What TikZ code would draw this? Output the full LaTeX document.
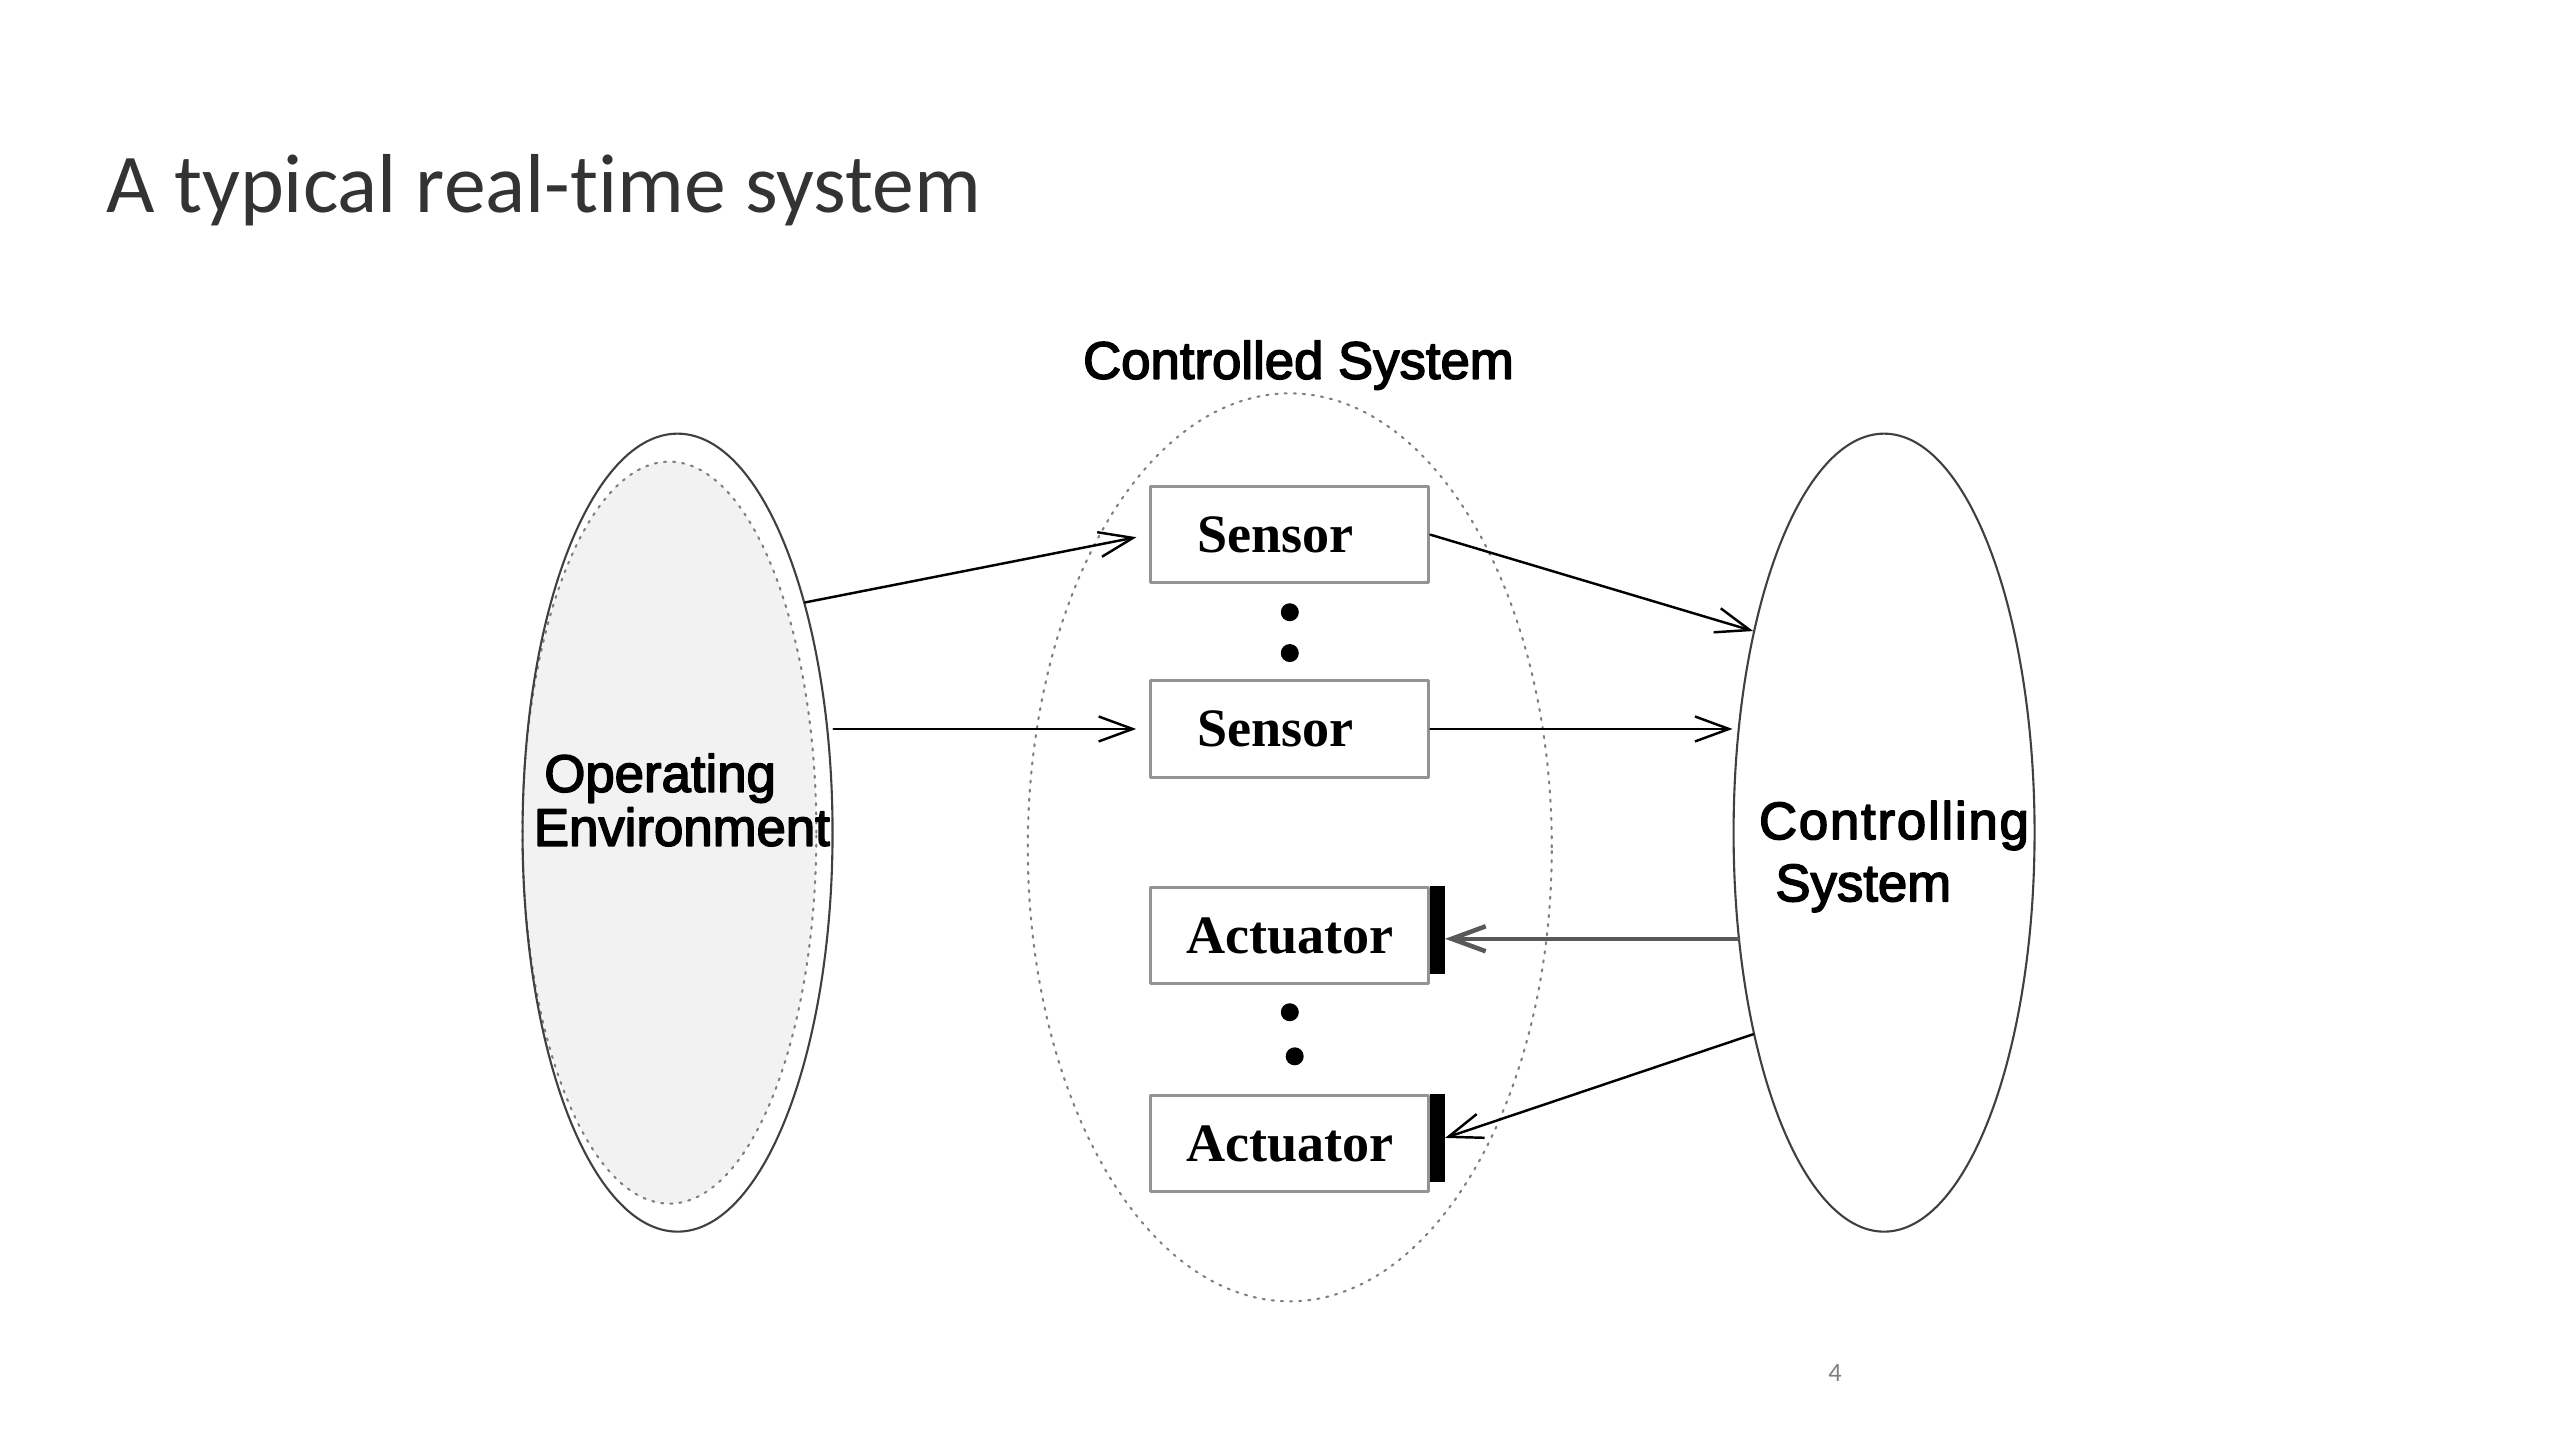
\documentclass[tikz,border=0pt]{standalone}
\usepackage{fontspec}
\setmainfont{Liberation Sans}
\newfontfamily\titlefont[Ligatures={NoCommon,NoRequired,NoContextual}]{Carlito}
\newfontfamily\labelfont[FakeBold=3]{Liberation Sans}
\newfontfamily\widelabelfont[FakeBold=3,LetterSpace=3.4]{Liberation Sans}
\newfontfamily\partfont{Liberation Serif}
\usetikzlibrary{arrows.meta}
\usetikzlibrary{shapes.geometric}
\usetikzlibrary{calc}
\usetikzlibrary{positioning}

\begin{document}
\begin{tikzpicture}[x=0.016327cm,y=-0.016327cm,line cap=round,line join=round,
    >={Straight Barb[length=3.4mm,width=2.5mm]},
    oval/.style={ellipse,draw=black!75,inner sep=0pt,line width=0.6pt},
    part/.style={draw=gray!85,line width=0.9pt,inner sep=0pt,minimum width=2.78cm,minimum height=0.963cm,
      font=\partfont\bfseries\fontsize{15.4}{16}\selectfont},
    actbar/.style={fill=black,inner sep=0pt,outer sep=0pt,minimum width=0.147cm,minimum height=0.88cm,anchor=north west},
    lbl/.style={font=\labelfont\fontsize{15}{16}\selectfont,inner sep=0pt,anchor=base west},
    dotnode/.style={circle,fill=black,inner sep=0pt,minimum size=0.18cm},
    link/.style={->,line width=0.7pt}]
        \useasboundingbox (0,0) rectangle (1568,882);
        \node[anchor=base west,inner sep=0pt,text=black!80,font=\titlefont\fontsize{23.8}{28}\selectfont] (title) at (65,130) {A typical real-time system};
        %
        \node[oval,draw=gray,fill=gray!10,dotted,minimum width=2.94cm,minimum height=7.42cm] (envin) at (410,510) {};
        \node[oval,minimum width=3.1cm,minimum height=7.98cm] (env) at (415,510) {};
        \node[lbl] (envtxt) at (333,485) {Operating};
        \node[lbl] (envtxtb) at (326.6,518) {Environment};
        %
        \node[oval,draw=gray,dotted,minimum width=5.24cm,minimum height=9.08cm] (plant) at (790,519) {};
        \node[lbl] (planttxt) at (663,232) {Controlled System};
        %
        \node[oval,minimum width=3.01cm,minimum height=7.98cm] (ctrl) at (1154,510) {};
        \node[lbl,font=\widelabelfont\fontsize{15}{16}\selectfont] (ctrltxt) at (1077,514) {Controlling};
        \node[lbl] (ctrltxtb) at (1087,552) {System};
        %
        \node[part] (sens1) at (790,327.5) {Sensor\kern0.28cm};
        \node[part] (sens2) at (790,446.5) {Sensor\kern0.28cm};
        \node[dotnode] (d1) at (790,375) {};
        \node[dotnode] (d2) at (790,400) {};
        %
        \node[part] (act1) at (790,573) {Actuator};
        \node[part] (act2) at (790,700.5) {Actuator};
        \node[actbar] (bar1) at (act1.north east) {};
        \node[actbar] (bar2) at (act2.north east) {};
        \node[dotnode] (d3) at (790,620) {};
        \node[dotnode] (d4) at (793,647) {};
        %
        \draw[link,shorten >=0.13cm] (env.61) -- (sens1.west);
        \draw[link,shorten >=0.13cm] (sens2.west -| env.east) -- (sens2.west);
        \draw[link] (sens1.east) -- (ctrl.123);
        \draw[link] (sens2.east) -- (sens2.east -| ctrl.west);
        \draw[link,draw=black!65,line width=1.3pt] (ctrl.216) -- (ctrl.216 -| bar1.east);
        \draw[link] (ctrl.237) -- (bar2.east);
        %
        \node[text=gray,font=\titlefont\fontsize{7.5}{9}\selectfont] (pagenum) at (1124,841) {4};
\end{tikzpicture}
\end{document}
